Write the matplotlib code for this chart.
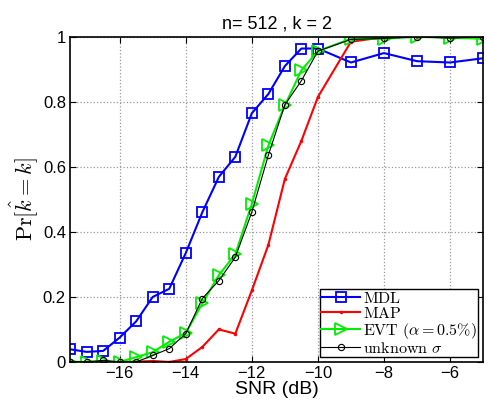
import numpy as np
import matplotlib
matplotlib.use("Agg")
import matplotlib.pyplot as plt

plt.rcParams["font.family"] = ["Liberation Sans", "DejaVu Sans"]
plt.rcParams["mathtext.fontset"] = "cm"

# data
snr = [-17.5, -17, -16.5, -16, -15.5, -15, -14.5, -14, -13.5, -13, -12.5,
       -12, -11.5, -11, -10.5, -10, -9, -8, -7, -6, -5]
mdl = [0.039, 0.031, 0.034, 0.075, 0.125, 0.200, 0.225, 0.335, 0.460, 0.569, 0.631,
       0.765, 0.824, 0.910, 0.964, 0.964, 0.921, 0.950, 0.925, 0.921, 0.934]
map_ = [0.0, 0.0, 0.0, 0.0, 0.001, 0.003, 0.0, 0.009, 0.046, 0.100, 0.087,
        0.220, 0.360, 0.563, 0.680, 0.815, 0.985, 0.999, 1.0, 1.0, 1.0]
evt = [0.0, 0.0, 0.002, 0.0, 0.015, 0.030, 0.062, 0.089, 0.180, 0.267, 0.331,
       0.486, 0.666, 0.789, 0.897, 0.956, 0.994, 0.994, 1.0, 0.997, 0.994]
unk = [0.0, 0.0, 0.005, 0.0, 0.0, 0.020, 0.041, 0.087, 0.195, 0.250, 0.322,
       0.461, 0.636, 0.791, 0.865, 0.956, 0.992, 0.995, 1.0, 0.996, 1.0]

xticks = [-16, -14, -12, -10, -8, -6]
yticks = [0, 0.2, 0.4, 0.6, 0.8, 1]
ytlabels = ["0", "0.2", "0.4", "0.6", "0.8", "1"]

fig = plt.figure(figsize=(4.87, 4.09), dpi=100)
ax = fig.add_axes([0.144, 0.115, 0.848, 0.795])

ax.plot(snr, mdl, color="blue", lw=1.5, marker="s", ms=7, mfc="none", mew=1.3,
        label=r"$\mathrm{MDL}$")
ax.plot(snr, map_, color="red", lw=1.5, marker=".", ms=3,
        label=r"$\mathrm{MAP}$")
ax.plot(snr, evt, color="#00ee00", lw=1.5, marker=">", ms=8, mfc="none", mew=1.3,
        label=r"$\mathrm{EVT}\ (\alpha = 0.5\%)$")
ax.plot(snr, unk, color="black", lw=0.8, marker="o", ms=4.5, mfc="none", mew=0.8,
        label=r"$\mathrm{unknown}\ \sigma$")

ax.set_xlim(-17.5, -5)
ax.set_ylim(0, 1)
ax.set_xticks(xticks)
ax.set_yticks(yticks)
ax.set_yticklabels(ytlabels)
ax.set_xticklabels(["\u2212" + str(abs(t)) for t in xticks])
ax.tick_params(direction="in", top=True, right=True, labelsize=12, length=4, pad=3)
ax.grid(True, linestyle=":", color="#999999", lw=0.9)
for s in ax.spines.values():
    s.set_linewidth(1.2)

ax.set_title("n= 512 , k = 2", fontsize=13, pad=6)
ax.set_xlabel("SNR (dB)", fontsize=14, labelpad=0)
ax.set_ylabel(r"$\mathrm{Pr}[\hat{k} = k]$", fontsize=16, labelpad=2)

leg = ax.legend(loc="lower right", fontsize=11.5, labelspacing=0.0, handlelength=2.4,
                handletextpad=0.2, borderpad=0.1, borderaxespad=0.3, fancybox=False,
                framealpha=1)
leg.get_frame().set_edgecolor("black")
leg.get_frame().set_linewidth(1.0)

fig.savefig("out.png", dpi=100)
